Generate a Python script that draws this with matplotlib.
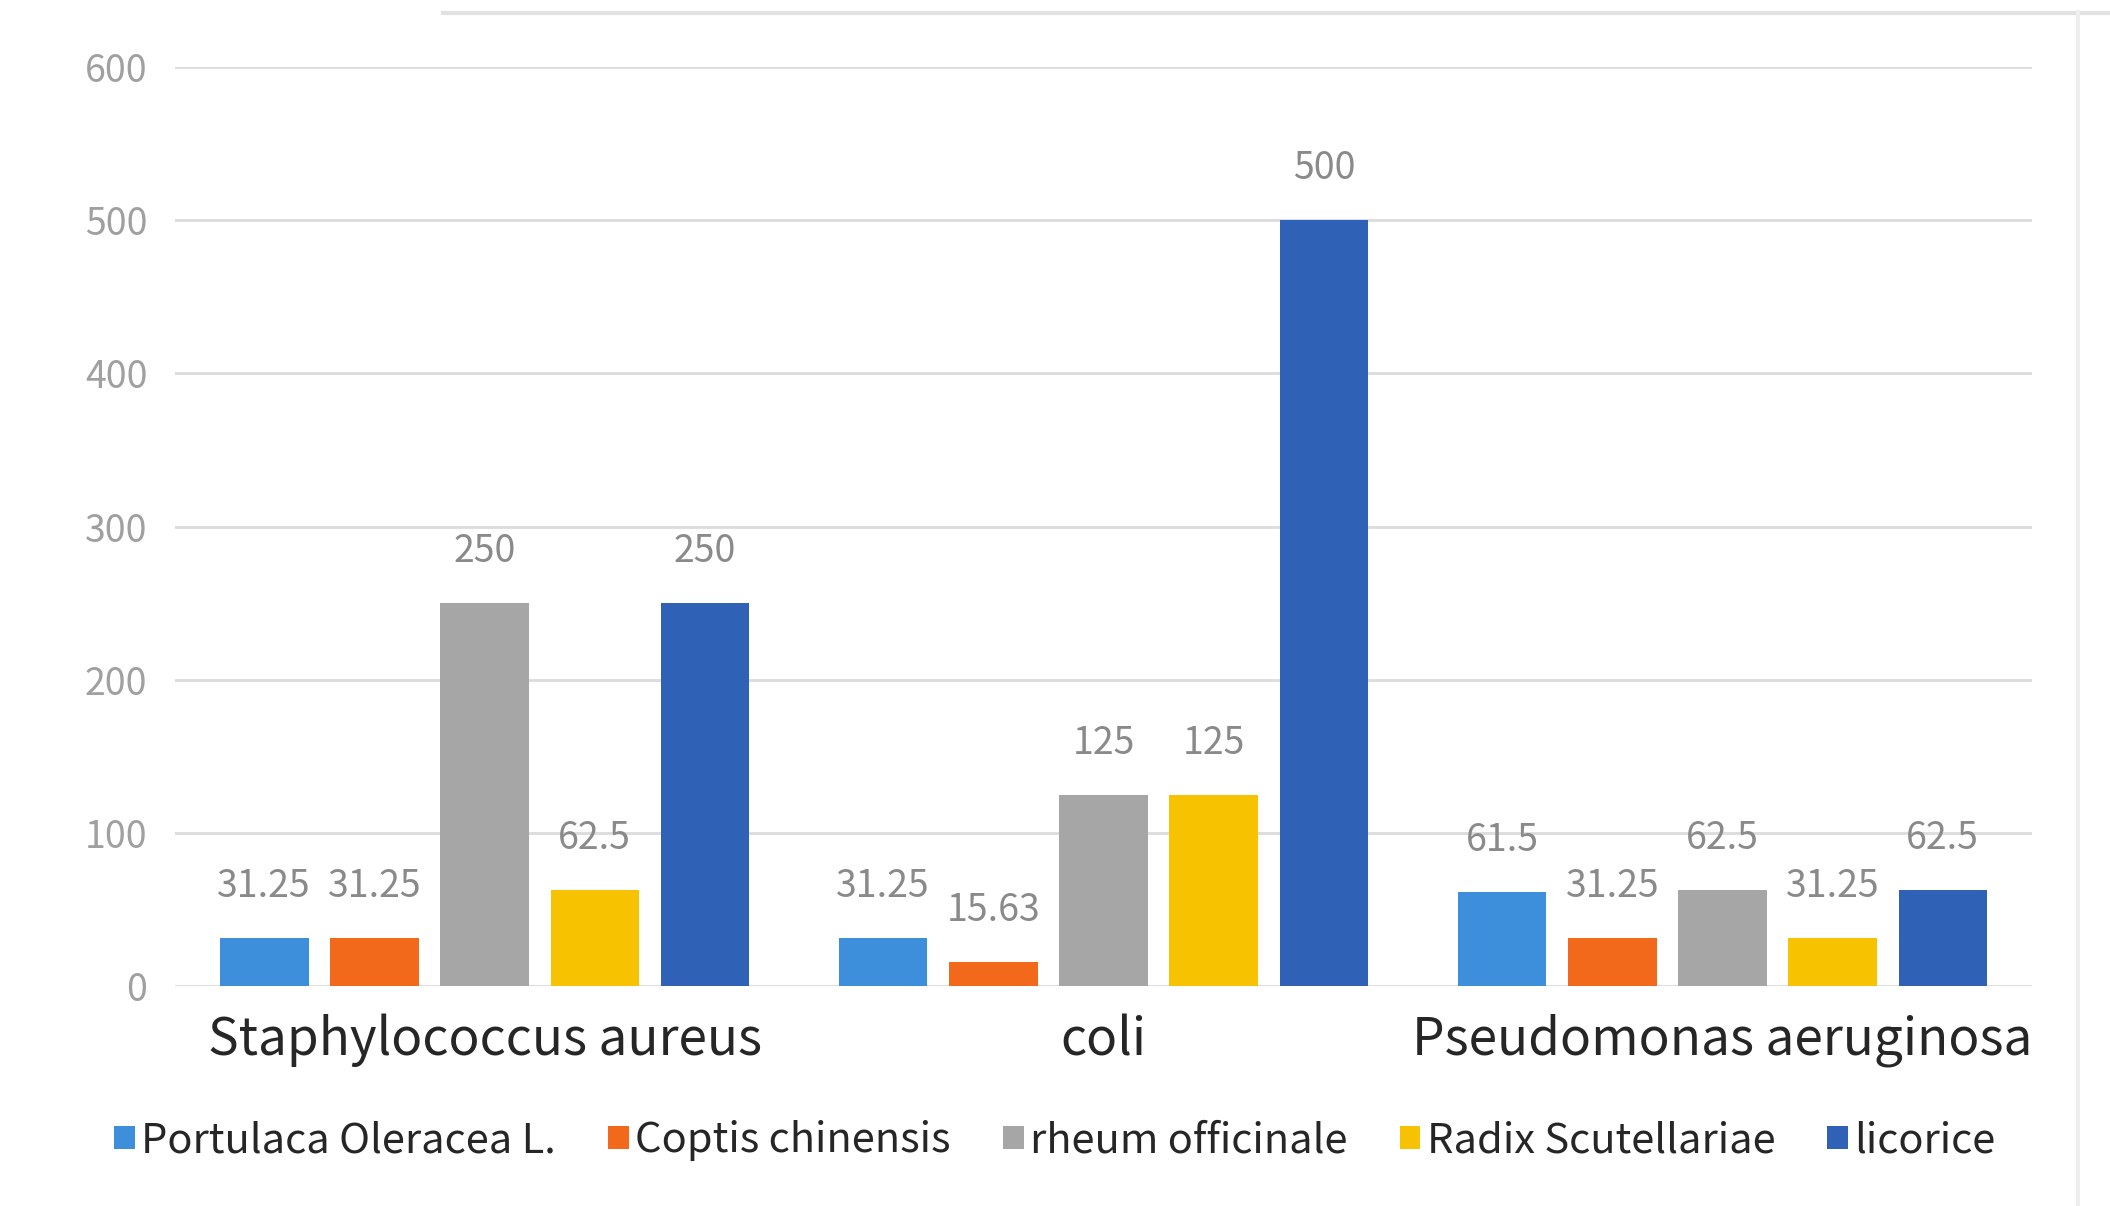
import numpy as np
import matplotlib.pyplot as plt
from matplotlib.lines import Line2D

plt.rcParams['font.family'] = ['Noto Sans CJK SC', 'DejaVu Sans']

bacteria = ['Staphylococcus aureus', 'coli', 'Pseudomonas aeruginosa']
herbs = ['Portulaca Oleracea L.', 'Coptis chinensis', 'rheum officinale',
         'Radix Scutellariae', 'licorice']
portulaca = [31.25, 31.25, 61.5]
coptis = [31.25, 15.63, 31.25]
rheum = [250, 125, 62.5]
scutellaria = [62.5, 125, 31.25]
licorice = [250, 500, 62.5]
y_ticks = [0, 100, 200, 300, 400, 500, 600]

colors = ['#3d8fdb', '#f2691c', '#a6a6a6', '#f7c200', '#2f62b6']
series = [portulaca, coptis, rheum, scutellaria, licorice]

fig = plt.figure(figsize=(21.1, 12.06), dpi=100)
ax = fig.add_axes([0.083, 0.1824, 0.88, 0.762])

x = np.arange(len(bacteria))
step = 0.178
width = 0.143
for i, (vals, name, c) in enumerate(zip(series, herbs, colors)):
    pos = x + (i - 2) * step
    ax.bar(pos, vals, width, color=c, label=name, zorder=3)
    for px, v in zip(pos, vals):
        ax.annotate('{:g}'.format(v), (px, v), xytext=(0, 37), textcoords='offset points',
                    ha='center', va='center', fontsize=27, color='#8a8a8a')

ax.set_xlim(-0.5, 2.5)
ax.set_ylim(0, 600)
ax.set_yticks(y_ticks)
ax.set_yticklabels([str(t) for t in y_ticks], fontsize=27, color='#a0a0a0')
ax.set_xticks(x)
ax.set_xticklabels(bacteria, fontsize=37, color='#262626')
ax.tick_params(axis='both', length=0)
ax.tick_params(axis='x', pad=20)
ax.tick_params(axis='y', pad=20)
ax.grid(axis='y', color='#dcdcdc', lw=2, zorder=0)
for s in ax.spines.values():
    s.set_visible(False)

fig.legend(loc='center', bbox_to_anchor=(0.5, 0.054), ncol=5, frameon=False,
           fontsize=30, handlelength=0.5, handleheight=0.5, handletextpad=0.15,
           columnspacing=1.25, labelcolor='#262626')

# faint frame edges along the top and right
fig.add_artist(Line2D([0.21, 1.0], [0.989, 0.989], color='#e2e2e2', lw=3))
fig.add_artist(Line2D([0.985, 0.985], [0.0, 0.99], color='#eeeeee', lw=3))

fig.savefig('out.png', dpi=100, facecolor='white')
